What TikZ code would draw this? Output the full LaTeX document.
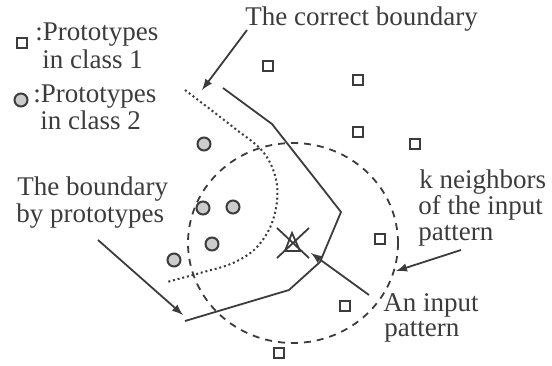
\documentclass[tikz,border=0pt]{standalone}
\usepackage{fontspec}
\setmainfont{Liberation Serif}
\definecolor{ink}{HTML}{3C3C3C}

\begin{document}
\begin{tikzpicture}[x=0.5pt,y=-0.5pt,
pen/.style={draw=ink,line width=0.9pt},
lbl/.style={anchor=base west,inner sep=0pt,text=ink,font=\fontsize{13.5}{15}\selectfont},
proto1/.style={draw=ink,line width=1pt,minimum size=4.8pt,inner sep=0pt},
proto2/.style={circle,draw=ink,fill=gray!40,line width=1pt,minimum size=6.5pt,inner sep=0pt}]

\useasboundingbox (0,0) rectangle (552,365);

% legend
\node[proto1] (leg1) at (22,43) {};
\node[lbl] (leg1a) at (35,40) {:Prototypes};
\node[lbl] (leg1b) at (42,68) {in class 1};
\node[proto2] (leg2) at (21,100) {};
\node[lbl] (leg2a) at (33,102) {:Prototypes};
\node[lbl] (leg2b) at (40,129) {in class 2};

% prototypes in class 1
\foreach \x/\y [count=\i] in {268/66,358/80,358/132,415/144,380/239,345/306,279/353}
  \node[proto1] (sq\i) at (\x,\y) {};
% prototypes in class 2
\foreach \x/\y [count=\i] in {204/144,203/208,233/207,212/244,174/260}
  \node[proto2] (ci\i) at (\x,\y) {};

% k neighbors region
\draw[pen,dash pattern=on 3.5pt off 3pt] (293,243) ellipse [x radius=52.5pt,y radius=50pt];

% dotted boundary
\draw[pen,line width=1pt,dash pattern=on 1pt off 1.4pt] plot[smooth,tension=0.6] coordinates
  {(185,90) (233,127) (264,153) (277,185) (273,220) (257,247) (233,263) (200,273) (167,282)};

% solid boundary
\draw[pen,line join=round] (223,88) -- (272,124) -- (316,180) -- (341,212) -- (320,262)
  -- (289,290) -- (185,321);

% input pattern
\coordinate (inp) at (293,243);
\draw[pen] (inp) ++(-16,-15) -- ++(32,30) (inp) ++(16,-15) -- ++(-32,30);
\draw[pen] (292,233) -- (285,251) -- (300,251) -- cycle;

% labels
\node[lbl] (corr) at (245,25) {The correct boundary};
\node[lbl] (byp1) at (17,195) {The boundary};
\node[lbl] (byp2) at (16,222) {by prototypes};
\node[lbl] (kn1) at (419,188) {k neighbors};
\node[lbl] (kn2) at (418,214) {of the input};
\node[lbl] (kn3) at (418,240) {pattern};
\node[lbl] (an1) at (383,311) {An input};
\node[lbl] (an2) at (384,336) {pattern};

% arrows
\coordinate (corrtip) at (202,90);
\coordinate (byptip) at (183,315);
\coordinate (kntip) at (396,271);
\coordinate (antip) at (311,253);
\draw[pen,-latex] (247,30) -- (corrtip);
\draw[pen,-latex] (98,240) -- (byptip);
\draw[pen,-latex] (461,250) -- (kntip);
\draw[pen,-latex] (369,295) -- (antip);
\end{tikzpicture}
\end{document}
